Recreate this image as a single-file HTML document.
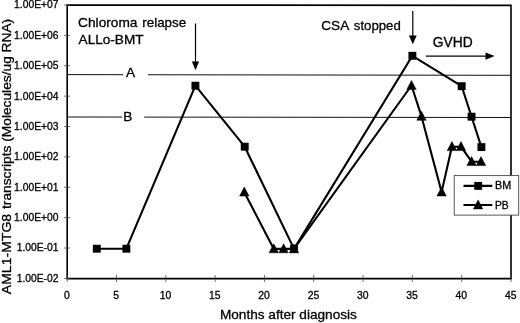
<!DOCTYPE html><html><head><meta charset="utf-8"><title>chart</title><style>html,body{margin:0;padding:0;background:#fff}svg{display:block;filter:blur(0.35px)}text{font-family:"Liberation Sans",Arial,sans-serif;fill:#000;stroke:#000;stroke-width:0.3px}</style></head><body>
<svg width="520" height="323" viewBox="0 0 520 323">
<rect width="520" height="323" fill="#fff"/>
<g stroke="#111" stroke-width="1" fill="none">
<path d="M67.2 74.6L123.2 74.7M148 74.75L511.0 75.3"/>
<path d="M67.2 117.0L122.2 117.05M144.2 117.1L511.0 117.5"/>
</g>
<path d="M67.2 278.4V5.0L511.0 5.4V278.4" fill="none" stroke="#000" stroke-width="1.6" stroke-linejoin="miter"/>
<path d="M66.4 278.7H511.8" fill="none" stroke="#000" stroke-width="1.7"/>
<path d="M64.0 278.40H70.2M64.0 248.02H70.2M64.0 217.64H70.2M64.0 187.27H70.2M64.0 156.89H70.2M64.0 126.51H70.2M64.0 96.13H70.2M64.0 65.76H70.2M64.0 35.38H70.2M64.0 5.00H70.2M67.20 275.0V282.0M116.51 275.0V282.0M165.82 275.0V282.0M215.13 275.0V282.0M264.44 275.0V282.0M313.76 275.0V282.0M363.07 275.0V282.0M412.38 275.0V282.0M461.69 275.0V282.0M511.00 275.0V282.0" stroke="#444" stroke-width="0.75" fill="none"/>
<text x="58.5" y="281.80" font-size="10.3" text-anchor="end">1.00E-02</text>
<text x="58.5" y="251.42" font-size="10.3" text-anchor="end">1.00E-01</text>
<text x="58.5" y="221.04" font-size="10.3" text-anchor="end">1.00E+00</text>
<text x="58.5" y="190.67" font-size="10.3" text-anchor="end">1.00E+01</text>
<text x="58.5" y="160.29" font-size="10.3" text-anchor="end">1.00E+02</text>
<text x="58.5" y="129.91" font-size="10.3" text-anchor="end">1.00E+03</text>
<text x="58.5" y="99.53" font-size="10.3" text-anchor="end">1.00E+04</text>
<text x="58.5" y="69.16" font-size="10.3" text-anchor="end">1.00E+05</text>
<text x="58.5" y="38.78" font-size="10.3" text-anchor="end">1.00E+06</text>
<text x="58.5" y="7.70" font-size="10.3" text-anchor="end">1.00E+07</text>
<text x="66.90" y="298.5" font-size="10.4" text-anchor="middle">0</text>
<text x="116.21" y="298.5" font-size="10.4" text-anchor="middle">5</text>
<text x="165.52" y="298.5" font-size="10.4" text-anchor="middle">10</text>
<text x="214.83" y="298.5" font-size="10.4" text-anchor="middle">15</text>
<text x="264.14" y="298.5" font-size="10.4" text-anchor="middle">20</text>
<text x="313.46" y="298.5" font-size="10.4" text-anchor="middle">25</text>
<text x="362.77" y="298.5" font-size="10.4" text-anchor="middle">30</text>
<text x="412.08" y="298.5" font-size="10.4" text-anchor="middle">35</text>
<text x="461.39" y="298.5" font-size="10.4" text-anchor="middle">40</text>
<text x="510.70" y="298.5" font-size="10.4" text-anchor="middle">45</text>
<text x="219.9" y="319.1" font-size="13.5" textLength="137" lengthAdjust="spacingAndGlyphs">Months after diagnosis</text>
<text transform="translate(11.1 294.2) rotate(-90)" font-size="13.6" textLength="80.4" lengthAdjust="spacingAndGlyphs">AML1-MTG8</text>
<text transform="translate(11.1 209) rotate(-90)" font-size="13.6" textLength="190.2" lengthAdjust="spacingAndGlyphs">transcripts (Molecules/ug RNA)</text>
<text x="78.1" y="27" font-size="13.6" textLength="59.4" lengthAdjust="spacingAndGlyphs">Chloroma</text><text x="142.3" y="27" font-size="13.6" textLength="43.8" lengthAdjust="spacingAndGlyphs">relapse</text>
<text x="78.6" y="44" font-size="13.6">ALLo-BMT</text>
<text x="126" y="76.9" font-size="13.6">A</text>
<text x="123.2" y="120.8" font-size="13.6">B</text>
<text x="321.3" y="30.3" font-size="13.6">CSA</text><text x="353.8" y="30.3" font-size="13.6" textLength="47" lengthAdjust="spacingAndGlyphs">stopped</text>
<text x="432.8" y="46.9" font-size="13.8">GVHD</text>
<g stroke="#000" stroke-width="1.2" fill="#000">
<path d="M195.5 23.5V63" fill="none"/><path d="M191.9 61.6L195.5 70.2L199.1 61.6Z" stroke="none"/>
<path d="M412.8 11V37" fill="none"/><path d="M408.9 35.5L412.8 44.2L416.7 35.5Z" stroke="none"/>
<path d="M425.8 56.1H487" fill="none"/><path d="M485.5 52.4L494.6 56.1L485.5 59.8Z" stroke="none"/>
</g>
<polyline points="96.79,248.70 126.37,248.70 195.41,85.70 244.72,146.70 294.03,248.90 412.38,55.80 461.69,86.20 471.55,116.70 481.41,147.10" fill="none" stroke="#000" stroke-width="2.1" stroke-linejoin="round"/>
<polyline points="244.30,192.20 273.80,248.90 283.60,248.90 294.00,248.90 411.50,85.50 421.50,116.40 441.60,192.10 451.90,146.70 461.00,146.70 471.60,161.70 481.00,161.70" fill="none" stroke="#000" stroke-width="2.1" stroke-linejoin="round"/>
<rect x="92.84" y="244.75" width="7.9" height="7.9" fill="#000"/>
<rect x="122.42" y="244.75" width="7.9" height="7.9" fill="#000"/>
<rect x="191.46" y="81.75" width="7.9" height="7.9" fill="#000"/>
<rect x="240.77" y="142.75" width="7.9" height="7.9" fill="#000"/>
<rect x="290.08" y="244.95" width="7.9" height="7.9" fill="#000"/>
<rect x="408.43" y="51.85" width="7.9" height="7.9" fill="#000"/>
<rect x="457.74" y="82.25" width="7.9" height="7.9" fill="#000"/>
<rect x="467.60" y="112.75" width="7.9" height="7.9" fill="#000"/>
<rect x="477.46" y="143.15" width="7.9" height="7.9" fill="#000"/>
<path d="M244.30 187.10L249.00 196.10H239.60Z" fill="#000" stroke="#000" stroke-width="0.5" stroke-linejoin="round"/>
<path d="M273.80 243.80L278.50 252.80H269.10Z" fill="#000" stroke="#000" stroke-width="0.5" stroke-linejoin="round"/>
<path d="M283.60 243.80L288.30 252.80H278.90Z" fill="#000" stroke="#000" stroke-width="0.5" stroke-linejoin="round"/>
<path d="M294.00 243.80L298.70 252.80H289.30Z" fill="#000" stroke="#000" stroke-width="0.5" stroke-linejoin="round"/>
<path d="M411.50 80.40L416.20 89.40H406.80Z" fill="#000" stroke="#000" stroke-width="0.5" stroke-linejoin="round"/>
<path d="M421.50 111.30L426.20 120.30H416.80Z" fill="#000" stroke="#000" stroke-width="0.5" stroke-linejoin="round"/>
<path d="M441.60 187.00L446.30 196.00H436.90Z" fill="#000" stroke="#000" stroke-width="0.5" stroke-linejoin="round"/>
<path d="M451.90 141.60L456.60 150.60H447.20Z" fill="#000" stroke="#000" stroke-width="0.5" stroke-linejoin="round"/>
<path d="M461.00 141.60L465.70 150.60H456.30Z" fill="#000" stroke="#000" stroke-width="0.5" stroke-linejoin="round"/>
<path d="M471.60 156.60L476.30 165.60H466.90Z" fill="#000" stroke="#000" stroke-width="0.5" stroke-linejoin="round"/>
<path d="M481.00 156.60L485.70 165.60H476.30Z" fill="#000" stroke="#000" stroke-width="0.5" stroke-linejoin="round"/>
<rect x="454.2" y="175.6" width="64.5" height="39.5" fill="#fff" stroke="#444" stroke-width="0.9"/>
<path d="M463.5 185.9H492.3M463.5 205H492.3" stroke="#000" stroke-width="2.1" fill="none"/>
<rect x="474.25" y="181.95000000000002" width="7.9" height="7.9" fill="#000"/>
<path d="M478.10 199.90L482.80 208.90H473.40Z" fill="#000" stroke="#000" stroke-width="0.5" stroke-linejoin="round"/>
<text x="495" y="189.2" font-size="10.5" textLength="16.2" lengthAdjust="spacingAndGlyphs">BM</text>
<text x="495" y="208.9" font-size="10.5" textLength="13.7" lengthAdjust="spacingAndGlyphs">PB</text>
</svg></body></html>
